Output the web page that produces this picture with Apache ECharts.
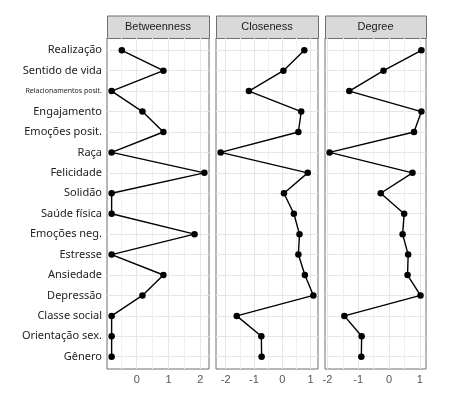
<!DOCTYPE html>
<html>
<head>
<meta charset="utf-8">
<script src="https://cdn.jsdelivr.net/npm/echarts@6/dist/echarts.min.js"></script>
<style>
html, body { margin: 0; padding: 0; background: #fff; }
#draw { width: 452px; height: 399px; }
</style>
</head>
<body>
<div id="draw"></div>
<script>
// categorias (de cima para baixo)
var categories = ['Realização', 'Sentido de vida', 'Relacionamentos posit.', 'Engajamento',
	'Emoções posit.', 'Raça', 'Felicidade', 'Solidão', 'Saúde física', 'Emoções neg.',
	'Estresse', 'Ansiedade', 'Depressão', 'Classe social', 'Orientação sex.', 'Gênero'];

var panels = ['Betweenness', 'Closeness', 'Degree'];

var betweenness = [-0.47, 0.84, -0.79, 0.18, 0.84, -0.79, 2.13, -0.79, -0.79, 1.82,
	-0.79, 0.84, 0.18, -0.79, -0.79, -0.79];
var closeness = [0.78, 0.04, -1.18, 0.67, 0.57, -2.18, 0.90, 0.06, 0.41, 0.61,
	0.57, 0.80, 1.10, -1.61, -0.74, -0.73];
var degree = [1.05, -0.18, -1.29, 1.05, 0.81, -1.93, 0.76, -0.27, 0.49, 0.44,
	0.62, 0.60, 1.02, -1.45, -0.89, -0.90];

var xTicks = [[0, 1, 2], [-2, -1, 0, 1], [-2, -1, 0, 1]];
var xMinor = [[-0.5, 0.5, 1.5], [-1.5, -0.5, 0.5], [-1.5, -0.5, 0.5]];
var xRange = [[-0.936, 2.276], [-2.344, 1.264], [-2.079, 1.199]];

var myChart = echarts.init(document.getElementById('draw'));

var boxes = [
	{ left: 107, width: 102 },
	{ left: 216, width: 102 },
	{ left: 325, width: 101 }
];
var plotTop = 38, plotH = 331;

var values = [betweenness, closeness, degree];
var grids = [], xAxes = [], yAxes = [], series = [], graphics = [];

boxes.forEach(function(b, k) {
	grids.push({
		left: b.left, top: plotTop, width: b.width, height: plotH,
		show: true, borderColor: '#6f6f6f', borderWidth: 1, backgroundColor: '#fff'
	});
	xAxes.push({
		type: 'value', gridIndex: k,
		min: xRange[k][0], max: xRange[k][1],
		axisLine: { show: false },
		splitLine: { show: false },
		axisTick: { show: true, customValues: xTicks[k], length: 3, lineStyle: { color: '#333' } },
		axisLabel: {
			customValues: xTicks[k], color: '#555', fontSize: 11, margin: 5,
			fontFamily: 'Liberation Sans'
		}
	});
	yAxes.push({
		type: 'value', gridIndex: k, inverse: true,
		min: -0.6, max: 15.6,
		axisLine: { show: false },
		splitLine: { show: false },
		axisTick: { show: k == 0, customValues: categories.map(function(c, i) { return i; }),
			length: 3, lineStyle: { color: '#333' } },
		axisLabel: {
			show: k == 0,
			customValues: categories.map(function(c, i) { return i; }),
			margin: 5, color: '#222', fontSize: 11, fontFamily: 'Noto Sans',
			formatter: function(v) {
				var name = categories[Math.round(v)];
				if (name == 'Relacionamentos posit.') {
					return '{s|' + name + '}';
				}
				return name;
			},
			rich: { s: { fontSize: 7, color: '#222', fontFamily: 'Noto Sans' } }
		}
	});
	// linhas de grade
	var gridLines = [];
	categories.forEach(function(c, i) { gridLines.push({ yAxis: i, lineStyle: { color: '#e6e6e6', width: 1 } }); });
	xTicks[k].forEach(function(v) { gridLines.push({ xAxis: v, lineStyle: { color: '#e6e6e6', width: 1 } }); });
	xMinor[k].forEach(function(v) { gridLines.push({ xAxis: v, lineStyle: { color: '#f0f0f0', width: 1 } }); });
	series.push({
		type: 'scatter', xAxisIndex: k, yAxisIndex: k, data: [], z: 1,
		markLine: {
			silent: true, symbol: 'none', animation: false,
			label: { show: false },
			lineStyle: { type: 'solid' },
			data: gridLines
		}
	});
	series.push({
		name: panels[k], type: 'line', xAxisIndex: k, yAxisIndex: k, z: 5,
		data: values[k].map(function(v, i) { return [v, i]; }),
		symbol: 'circle', symbolSize: 6.5,
		itemStyle: { color: '#000' },
		lineStyle: { color: '#000', width: 1.4 },
		animation: false
	});
	// faixa do título do painel
	graphics.push({
		type: 'rect', left: b.left, top: 15.5,
		shape: { width: b.width, height: plotTop - 15.5 },
		style: { fill: '#d9d9d9', stroke: '#6f6f6f', lineWidth: 1 }
	});
	graphics.push({
		type: 'text', x: b.left + b.width / 2, y: (15.5 + plotTop) / 2,
		style: {
			text: panels[k], fill: '#1a1a1a', font: '11px "Liberation Sans"',
			align: 'center', verticalAlign: 'middle'
		}
	});
});

var option = {
	animation: false,
	grid: grids,
	xAxis: xAxes,
	yAxis: yAxes,
	series: series,
	graphic: graphics
};
myChart.setOption(option);
</script>
</body>
</html>
